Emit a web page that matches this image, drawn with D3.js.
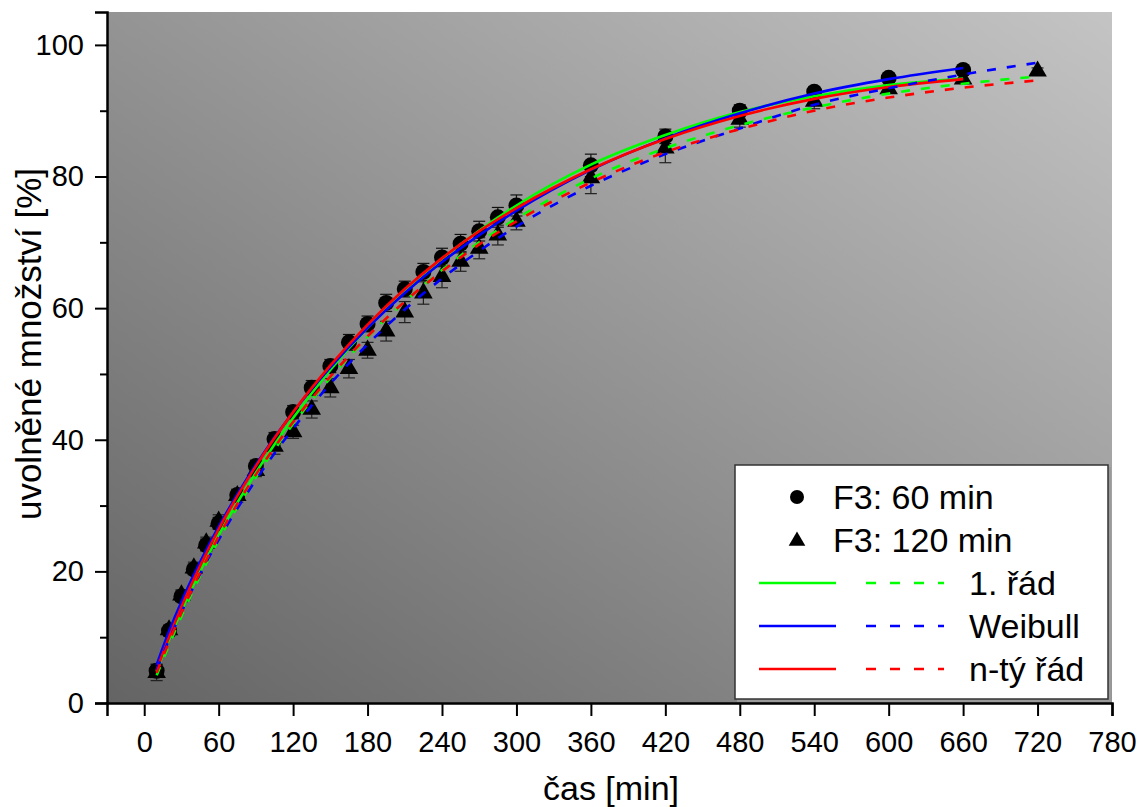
<!DOCTYPE html>
<html>
<head>
<meta charset="utf-8">
<script src="https://cdn.jsdelivr.net/npm/d3@7"></script>
<style>
  body { margin: 0; background: #fff; }
  text { font-family: "Liberation Sans", Arial, sans-serif; }
</style>
</head>
<body>
<div id="chart-area"></div>
<script>
// measured release data (F3, 60 min and 120 min)
var times60 = [10, 20, 30, 40, 50, 60, 75, 90, 105, 120, 135, 150, 165, 180, 195, 210, 225, 240, 255, 270, 285, 300, 360, 420, 480, 540, 600, 660];
var values60 = [4.9, 11.0, 16.2, 20.3, 24.0, 27.3, 31.6, 36.0, 40.1, 44.2, 47.9, 51.2, 54.8, 57.6, 60.8, 62.9, 65.5, 67.7, 69.8, 71.7, 73.8, 75.6, 81.7, 86.1, 90.0, 92.9, 95.0, 96.2];
var err60 = [1.0, 0.8, 0.8, 0.8, 0.9, 0.9, 0.8, 0.9, 1.0, 1.0, 1.1, 1.0, 1.2, 1.2, 1.3, 1.2, 1.3, 1.4, 1.4, 1.5, 1.5, 1.6, 1.7, 1.1, 0.9, 0.7, 0.6, 0.6];

var times120 = [10, 20, 30, 40, 50, 60, 75, 90, 105, 120, 135, 150, 165, 180, 195, 210, 225, 240, 255, 270, 285, 300, 360, 420, 480, 540, 600, 660, 720];
var values120 = [4.6, 11.1, 16.4, 20.5, 24.3, 27.6, 31.5, 35.3, 39.0, 41.2, 44.6, 47.9, 50.8, 53.6, 56.5, 59.4, 62.3, 64.8, 67.1, 69.1, 71.1, 73.2, 79.8, 84.3, 88.7, 91.4, 93.3, 94.8, 96.0];
var err120 = [1.2, 0.7, 0.8, 0.9, 0.9, 1.0, 1.0, 0.9, 1.2, 1.0, 1.3, 1.4, 1.4, 1.2, 1.5, 1.6, 1.7, 1.7, 1.5, 1.6, 1.5, 1.3, 2.4, 2.2, 1.2, 1.1, 0.6, 0.6, 0.5];

// fitted model curves
var fitTimes60 = [10, 20, 30, 45, 60, 90, 120, 150, 180, 210, 240, 270, 300, 360, 420, 480, 540, 600, 660];
var fitTimes120 = [10, 20, 30, 45, 60, 90, 120, 150, 180, 210, 240, 270, 300, 360, 420, 480, 540, 600, 660, 720];

var firstOrder60 = [4.8, 9.6, 14.0, 20.0, 25.5, 35.0, 43.3, 50.6, 57.0, 62.6, 67.5, 71.8, 75.6, 81.8, 86.3, 89.8, 92.2, 93.9, 94.9];
var weibull60 = [5.8, 10.9, 15.4, 21.4, 26.8, 36.2, 44.2, 51.0, 57.0, 62.3, 67.0, 71.1, 74.8, 81.0, 85.8, 89.6, 92.6, 94.8, 96.5];
var nthOrder60 = [5.0, 10.0, 14.6, 20.8, 26.4, 36.0, 44.2, 51.3, 57.5, 62.9, 67.6, 71.7, 75.2, 81.1, 85.7, 89.2, 91.8, 93.6, 94.8];

var firstOrder120 = [4.2, 8.8, 13.2, 19.3, 24.8, 34.3, 42.4, 49.4, 55.6, 61.0, 65.8, 70.0, 73.6, 79.7, 84.3, 87.8, 90.5, 92.6, 94.1, 95.2];
var weibull120 = [5.0, 9.6, 13.8, 19.6, 24.8, 33.9, 41.7, 48.5, 54.5, 59.8, 64.5, 68.7, 72.4, 78.6, 83.4, 87.3, 90.9, 93.4, 95.5, 97.3];
var nthOrder120 = [4.6, 9.3, 13.7, 19.8, 25.3, 34.7, 42.7, 49.6, 55.7, 61.0, 65.6, 69.7, 73.2, 79.1, 83.7, 87.2, 90.0, 92.0, 93.5, 94.6];

var xTicks = d3.range(0, 781, 60);
var yTicks = [0, 20, 40, 60, 80, 100];
var yMinorTicks = [10, 30, 50, 70, 90];

var seriesLabels = ["F3: 60 min", "F3: 120 min"];
var modelLabels = ["1. řád", "Weibull", "n-tý řád"];
var modelColors = ["#00ff00", "#0000ff", "#ff0000"];

var width = 1140;
var height = 807;
var margin = { top: 12, right: 28, bottom: 104, left: 107 };
var plotW = width - margin.left - margin.right;
var plotH = height - margin.top - margin.bottom;

var svg = d3.select("#chart-area")
  .append("svg")
  .attr("width", width)
  .attr("height", height)
  .style("background", "#fff");

var defs = svg.append("defs");
var grad = defs.append("linearGradient")
  .attr("id", "bg")
  .attr("x1", 0).attr("y1", 1)
  .attr("x2", 1).attr("y2", 0);
grad.append("stop").attr("offset", "0%").attr("stop-color", "#646464");
grad.append("stop").attr("offset", "100%").attr("stop-color", "#c4c4c4");

var g = svg.append("g")
  .attr("transform", "translate(" + margin.left + ", " + margin.top + ")");

var x = d3.scaleLinear().domain([-30, 780]).range([0, plotW]);
var y = d3.scaleLinear().domain([0, 105]).range([plotH, 0]);

g.append("rect")
  .attr("width", plotW)
  .attr("height", plotH)
  .attr("fill", "url(#bg)");

// axes
var xAxisG = g.append("g")
  .attr("transform", "translate(0, " + plotH + ")")
  .call(d3.axisBottom(x).tickValues(xTicks).tickSize(13).tickPadding(15));

var yAxisG = g.append("g")
  .call(d3.axisLeft(y).tickValues(yTicks).tickSize(12).tickPadding(11));

g.append("g")
  .call(d3.axisLeft(y).tickValues(yMinorTicks).tickSize(7).tickFormat(""))
  .select(".domain").remove();

[xAxisG, yAxisG].forEach(a => {
  a.selectAll(".domain").attr("stroke", "#000").attr("stroke-width", 2.5);
  a.selectAll(".tick text")
    .attr("fill", "#000")
    .style("font-size", "29px");
});
g.selectAll(".tick line").attr("stroke", "#000").attr("stroke-width", 2);

// error bars
function drawErrors(times, vals, errs, color) {
  var eg = g.append("g").attr("stroke", color).attr("stroke-width", 1.2);
  times.forEach((t, i) => {
    var cx = x(t);
    var y0 = y(vals[i] - errs[i]);
    var y1 = y(vals[i] + errs[i]);
    eg.append("line").attr("x1", cx).attr("x2", cx).attr("y1", y0).attr("y2", y1);
    eg.append("line").attr("x1", cx - 6).attr("x2", cx + 6).attr("y1", y0).attr("y2", y0);
    eg.append("line").attr("x1", cx - 6).attr("x2", cx + 6).attr("y1", y1).attr("y2", y1);
  });
}
drawErrors(times120, values120, err120, "#222");
drawErrors(times60, values60, err60, "#111");

var triangle = d3.symbol().type(d3.symbolTriangle).size(150);

g.selectAll(".pt60")
  .data(times60)
  .enter().append("circle")
  .attr("class", "pt60")
  .attr("cx", d => x(d))
  .attr("cy", (d, i) => y(values60[i]))
  .attr("r", 8)
  .attr("fill", "#000");

g.selectAll(".pt120")
  .data(times120)
  .enter().append("path")
  .attr("class", "pt120")
  .attr("d", triangle)
  .attr("transform", (d, i) => "translate(" + x(d) + "," + y(values120[i]) + ")")
  .attr("fill", "#000");

// fitted curves
function drawCurve(times, vals, color, dashed) {
  var line = d3.line()
    .x(d => x(d))
    .y((d, i) => y(vals[i]))
    .curve(d3.curveMonotoneX);
  g.append("path")
    .datum(times)
    .attr("d", line)
    .attr("fill", "none")
    .attr("stroke", color)
    .attr("stroke-width", 2.6)
    .attr("stroke-dasharray", dashed ? "9,11" : null);
}

var solid = [firstOrder60, weibull60, nthOrder60];
var dashedSets = [firstOrder120, weibull120, nthOrder120];
solid.forEach((s, i) => drawCurve(fitTimes60, s, modelColors[i], false));
dashedSets.forEach((s, i) => drawCurve(fitTimes120, s, modelColors[i], true));

// axis titles
svg.append("text")
  .attr("x", 611)
  .attr("y", 800)
  .attr("text-anchor", "middle")
  .style("font-size", "34px")
  .text("čas [min]");

svg.append("text")
  .attr("transform", "translate(41, 344) rotate(-90)")
  .attr("text-anchor", "middle")
  .style("font-size", "35px")
  .text("uvolněné množství [%]");

// legend
var lg = svg.append("g").attr("transform", "translate(735, 465)");
lg.append("rect")
  .attr("x", 2).attr("y", 2)
  .attr("width", 374).attr("height", 235)
  .attr("fill", "#9a9a9a");
lg.append("rect")
  .attr("width", 373).attr("height", 234)
  .attr("fill", "#fff")
  .attr("stroke", "#333")
  .attr("stroke-width", 1.5);

var rowY = [32, 75, 118, 161, 204];

lg.append("circle").attr("cx", 62).attr("cy", rowY[0]).attr("r", 7).attr("fill", "#000");
lg.append("path")
  .attr("d", d3.symbol().type(d3.symbolTriangle).size(120))
  .attr("transform", "translate(62," + (rowY[1] + 1) + ")")
  .attr("fill", "#000");

seriesLabels.forEach((s, i) => {
  lg.append("text")
    .attr("x", 98)
    .attr("y", rowY[i])
    .attr("dy", "0.36em")
    .style("font-size", "34px")
    .text(s);
});

modelLabels.forEach((m, i) => {
  var ry = rowY[i + 2];
  lg.append("line")
    .attr("x1", 24).attr("x2", 101)
    .attr("y1", ry).attr("y2", ry)
    .attr("stroke", modelColors[i]).attr("stroke-width", 2.6);
  lg.append("line")
    .attr("x1", 131).attr("x2", 209)
    .attr("y1", ry).attr("y2", ry)
    .attr("stroke", modelColors[i]).attr("stroke-width", 2.6)
    .attr("stroke-dasharray", "10,14");
  lg.append("text")
    .attr("x", 234)
    .attr("y", ry)
    .attr("dy", "0.36em")
    .style("font-size", "34px")
    .text(m);
});
</script>
</body>
</html>
